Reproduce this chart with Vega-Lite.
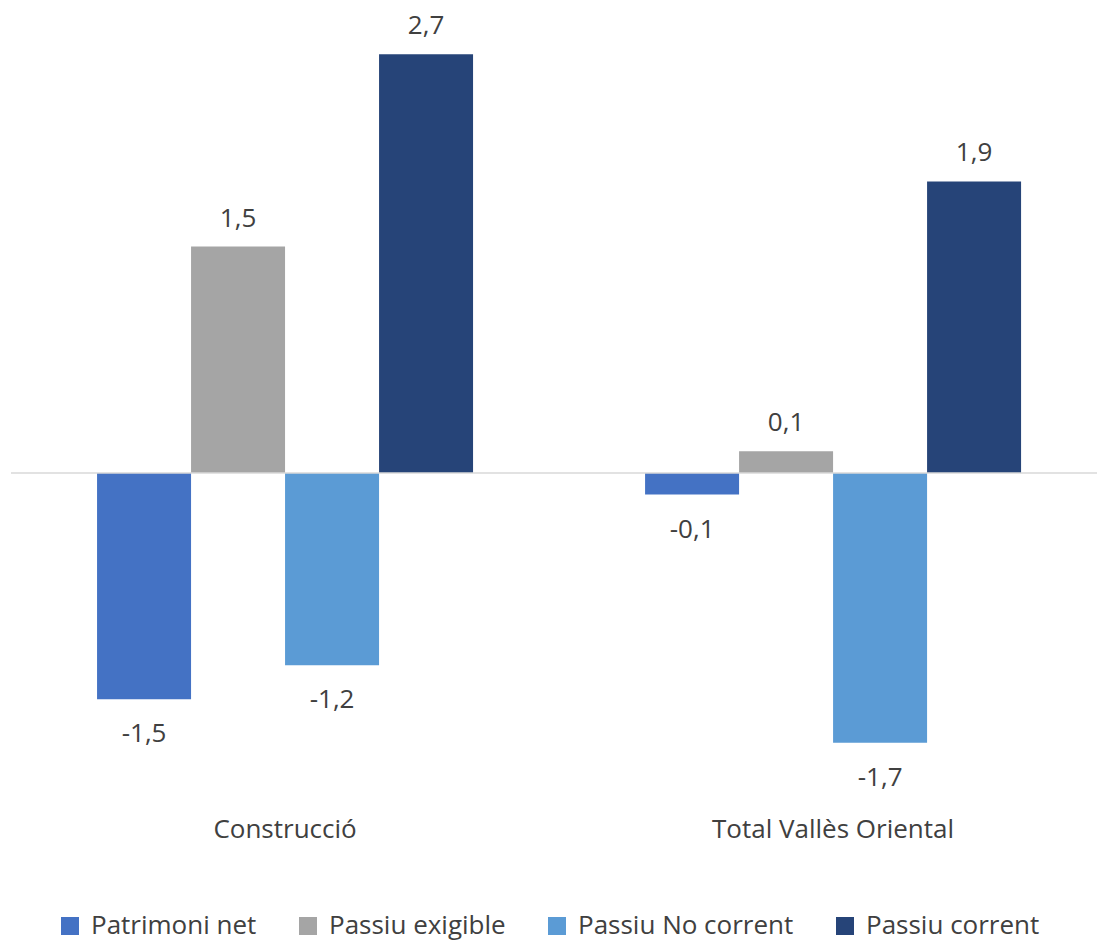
{
  "$schema": "https://vega.github.io/schema/vega-lite/v6.json",
  "width": 1087,
  "height": 814,
  "padding": {"left": 10, "top": 0, "right": 0, "bottom": 4},
  "background": "white",
  "config": {
    "view": {"stroke": null},
    "font": "Open Sans",
    "locale": {
      "number": {"decimal": ",", "thousands": ".", "grouping": [3], "currency": ["", " €"], "minus": "-"}
    }
  },
  "data": {
    "values": [
      {"group": "Construcció", "series": "Patrimoni net", "value": -1.46},
      {"group": "Construcció", "series": "Passiu exigible", "value": 1.46},
      {"group": "Construcció", "series": "Passiu No corrent", "value": -1.24},
      {"group": "Construcció", "series": "Passiu corrent", "value": 2.70},
      {"group": "Total Vallès Oriental", "series": "Patrimoni net", "value": -0.14},
      {"group": "Total Vallès Oriental", "series": "Passiu exigible", "value": 0.14},
      {"group": "Total Vallès Oriental", "series": "Passiu No corrent", "value": -1.74},
      {"group": "Total Vallès Oriental", "series": "Passiu corrent", "value": 1.88}
    ]
  },
  "layer": [
    {
      "mark": {"type": "bar"},
      "encoding": {
        "x": {
          "field": "group", "type": "nominal",
          "sort": ["Construcció", "Total Vallès Oriental"],
          "scale": {"paddingInner": 0.3139, "paddingOuter": 0.1487, "align": 0.528},
          "axis": {"title": null, "domain": false, "ticks": false, "labelAngle": 0, "labelFontSize": 26, "labelColor": "#404040", "labelPadding": 2, "labelFont": "Open Sans", "labelLimit": 0}
        },
        "xOffset": {
          "field": "series", "type": "nominal",
          "sort": ["Patrimoni net", "Passiu exigible", "Passiu No corrent", "Passiu corrent"],
          "scale": {"paddingInner": 0, "paddingOuter": 0}
        },
        "y": {
          "field": "value", "type": "quantitative",
          "scale": {"domain": [-2.2, 3.05], "nice": false, "zero": false},
          "axis": null
        },
        "color": {
          "field": "series", "type": "nominal",
          "sort": ["Patrimoni net", "Passiu exigible", "Passiu No corrent", "Passiu corrent"],
          "scale": {
            "domain": ["Patrimoni net", "Passiu exigible", "Passiu No corrent", "Passiu corrent"],
            "range": ["#4472C4", "#A5A5A5", "#5B9BD5", "#264478"]
          },
          "legend": {
            "title": null, "orient": "none", "direction": "horizontal",
            "legendX": 46, "legendY": 913,
            "symbolType": "square", "symbolSize": 324, "symbolStrokeWidth": 0,
            "labelFontSize": 26, "labelColor": "#404040", "labelFont": "Open Sans", "labelLimit": 0,
            "labelOffset": 8, "columnPadding": 38, "padding": 0
          }
        }
      }
    },
    {
      "data": {"values": [{"zero": 0}]},
      "mark": {"type": "rule", "color": "#D9D9D9", "strokeWidth": 1.5},
      "encoding": {"y": {"field": "zero", "type": "quantitative"}}
    },
    {
      "transform": [{"filter": "datum.value >= 0"}],
      "mark": {"type": "text", "baseline": "alphabetic", "dy": -20, "fontSize": 26, "color": "#404040", "font": "Open Sans"},
      "encoding": {
        "x": {"field": "group", "type": "nominal", "sort": ["Construcció", "Total Vallès Oriental"]},
        "xOffset": {"field": "series", "type": "nominal", "sort": ["Patrimoni net", "Passiu exigible", "Passiu No corrent", "Passiu corrent"]},
        "y": {"field": "value", "type": "quantitative"},
        "text": {"field": "value", "type": "quantitative", "format": ".1f"}
      }
    },
    {
      "transform": [{"filter": "datum.value < 0"}],
      "mark": {"type": "text", "baseline": "alphabetic", "dy": 43, "fontSize": 26, "color": "#404040", "font": "Open Sans"},
      "encoding": {
        "x": {"field": "group", "type": "nominal", "sort": ["Construcció", "Total Vallès Oriental"]},
        "xOffset": {"field": "series", "type": "nominal", "sort": ["Patrimoni net", "Passiu exigible", "Passiu No corrent", "Passiu corrent"]},
        "y": {"field": "value", "type": "quantitative"},
        "text": {"field": "value", "type": "quantitative", "format": ".1f"}
      }
    }
  ]
}
